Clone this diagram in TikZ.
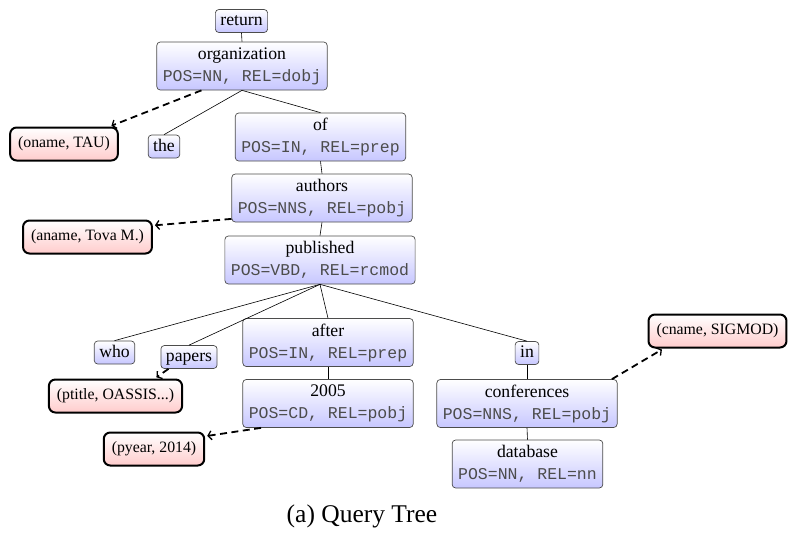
\documentclass[tikz,border=0pt]{standalone}
\usepackage{fontspec}
\setmainfont{Liberation Serif}
\setmonofont{Liberation Mono}
\usetikzlibrary{arrows.meta}
\newcommand\posrel[1]{{\fontsize{16.5}{22}\selectfont\ttfamily\color{black!70}#1}}
\tikzset{
  boxbase/.style={draw=black!70, line width=0.7pt, rounded corners=3.5pt, top color=white, bottom color=blue!22},
  word/.style={boxbase, inner xsep=5pt, inner ysep=3.5pt, text height=12.5pt, text depth=3.5pt, font=\fontsize{17.7}{22}\selectfont},
  tag/.style={boxbase, align=center, inner xsep=6pt, inner ysep=0pt, minimum height=48pt, font=\fontsize{17.7}{22}\selectfont},
  val/.style={draw=black, line width=2pt, rounded corners=6.5pt, top color=white, bottom color=red!20, inner xsep=8pt, inner ysep=0pt, minimum height=33pt, font=\fontsize{15.8}{19}\selectfont},
  edge/.style={line width=0.6pt},
  link/.style={line width=1.8pt, dash pattern=on 7pt off 4.5pt, -{Straight Barb[length=3.5pt,width=9pt,line width=1.3pt]}, shorten >=2pt}
}
\begin{document}
\begin{tikzpicture}[x=1pt,y=-1pt]
\useasboundingbox (0,0) rectangle (788,533);
% tree nodes
\node[word] (return) at (241.5,21) {return};
\node[tag] (org) at (242,66) {organization\\\posrel{POS=NN, REL=dobj}};
\node[word] (the) at (164,146.5) {the};
\node[tag] (of) at (320.5,137) {of\\\posrel{POS=IN, REL=prep}};
\node[tag] (authors) at (322,198) {authors\\\posrel{POS=NNS, REL=pobj}};
\node[tag] (published) at (320,260) {published\\\posrel{POS=VBD, REL=rcmod}};
\node[word] (who) at (114.5,352.5) {who};
\node[word] (papers) at (189,357) {papers};
\node[tag] (after) at (328,342.5) {after\\\posrel{POS=IN, REL=prep}};
\node[tag] (n2005) at (328,403.5) {2005\\\posrel{POS=CD, REL=pobj}};
\node[word] (in) at (527,353) {in};
\node[tag] (conf) at (527,403.5) {conferences\\\posrel{POS=NNS, REL=pobj}};
\node[tag] (database) at (527.5,464) {database\\\posrel{POS=NN, REL=nn}};
% value nodes
\node[val] (oname) at (64,144) {(oname, TAU)};
\node[val] (aname) at (87.5,237) {(aname, Tova M.)};
\node[val] (ptitle) at (115.5,396) {(ptitle, OASSIS...)};
\node[val] (pyear) at (154,449) {(pyear, 2014)};
\node[val] (cname) at (717.5,331) {(cname, SIGMOD)};
% caption
\node[font=\fontsize{25.5}{30}\selectfont, anchor=base] (cap) at (362,522) {(a) Query Tree};
% tree edges
\draw[edge] (return.south) -- (org.north);
\draw[edge] (org.south) -- (the.north);
\draw[edge] (org.south) -- (of.north);
\draw[edge] (of.south) -- (authors.north);
\draw[edge] (authors.south) -- (published.north);
\draw[edge] (published.south) -- (who.north);
\draw[edge] (published.south) -- (papers.north);
\draw[edge] (published.south) -- (after.north);
\draw[edge] (published.south) -- (in.north);
\draw[edge] (after.south) -- (n2005.north);
\draw[edge] (in.south) -- (conf.north);
\draw[edge] (conf.south) -- (database.north);
% value links
\draw[link] (org.211) -- (oname.21);
\draw[link] (authors.193) -- (aname.10);
\draw[link] (papers.210) -- (ptitle.24);
\draw[link] (n2005.200) -- (pyear.14);
\draw[link] (conf.16) -- (cname.198);
\end{tikzpicture}
\end{document}
